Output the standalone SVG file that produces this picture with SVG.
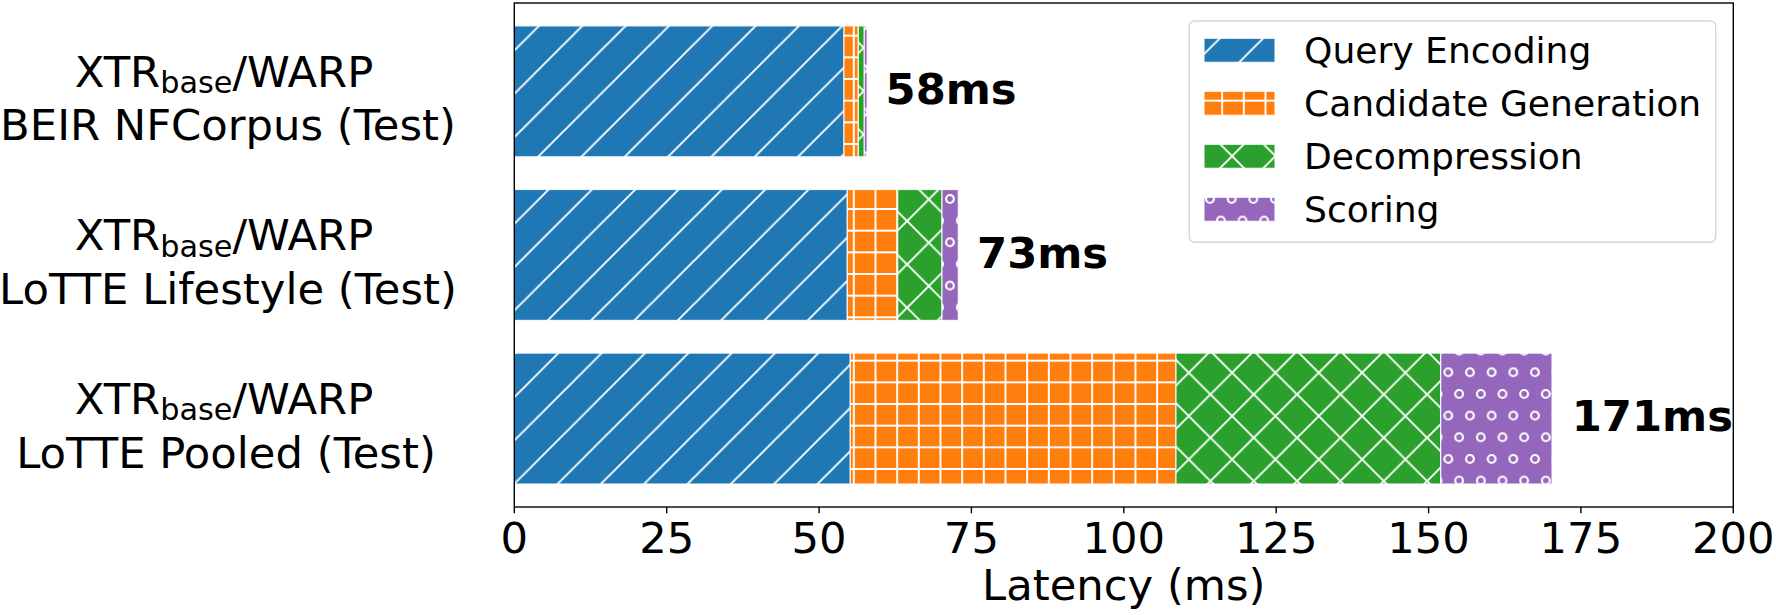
<svg xmlns="http://www.w3.org/2000/svg" width="1776" height="615" viewBox="0 0 1776 615">
<style>
  text { font-family: "DejaVu Sans", "Liberation Sans", sans-serif; fill: #000; }
  .lbl { font-size: 43.3px; text-anchor: middle; }
  .tick { font-size: 43.3px; text-anchor: middle; }
  .tot { font-size: 43.3px; font-weight: bold; }
  .leg { font-size: 36.1px; }
  .seg { stroke: #ffffff; stroke-width: 1.2; stroke-opacity: 0.85; }
  .spine { stroke: #000; stroke-width: 1.4; fill: none; }
  .tk { stroke: #000; stroke-width: 1.4; }
  .h { stroke: #ffffff; stroke-width: 1.9; fill: none; }
</style>
<defs>
  <pattern id="hb" patternUnits="userSpaceOnUse" x="1.5" y="0" width="43.333" height="43.333">
    <rect width="43.333" height="43.333" fill="#1f77b4"/>
    <path class="h" d="M-5,5 L5,-5 M-5,48.333 L48.333,-5 M38.333,48.333 L48.333,38.333"/>
  </pattern>
  <pattern id="ho" patternUnits="userSpaceOnUse" x="8.8" y="14" width="21.667" height="21.667">
    <rect width="21.667" height="21.667" fill="#ff7f0e"/>
    <path class="h" d="M0,0 V21.667 M21.667,0 V21.667 M0,0 H21.667 M0,21.667 H21.667"/>
  </pattern>
  <pattern id="hg" patternUnits="userSpaceOnUse" x="-2.9" y="4.4" width="43.333" height="43.333">
    <rect width="43.333" height="43.333" fill="#2ca02c"/>
    <path class="h" d="M-5,5 L5,-5 M-5,48.333 L48.333,-5 M38.333,48.333 L48.333,38.333 M-5,-5 L48.333,48.333 M38.333,-5 L48.333,5 M-5,38.333 L5,48.333"/>
  </pattern>
  <pattern id="hp" patternUnits="userSpaceOnUse" x="18.3" y="25.6" width="21.667" height="43.333">
    <rect width="21.667" height="43.333" fill="#9467bd"/>
    <g class="h" style="stroke-width:2.1">
      <circle cx="0" cy="0" r="3.9"/>
      <circle cx="21.667" cy="0" r="3.9"/>
      <circle cx="0" cy="43.333" r="3.9"/>
      <circle cx="21.667" cy="43.333" r="3.9"/>
      <circle cx="10.833" cy="21.667" r="3.9"/>
    </g>
  </pattern>
</defs>

<rect width="1776" height="615" fill="#ffffff"/>

<g id="bar-nfcorpus">
  <rect class="seg" x="514.3" y="25.9" width="329.7" height="130.9" fill="url(#hb)"/>
  <rect class="seg" x="844.0" y="25.9" width="14.3" height="130.9" fill="url(#ho)"/>
  <rect class="seg" x="858.3" y="25.9" width="6.0" height="130.9" fill="url(#hg)"/>
  <rect class="seg" x="864.3" y="25.9" width="2.8" height="130.9" fill="url(#hp)"/>
  <text class="tot" x="885.5" y="103.5">58ms</text>
</g>

<g id="bar-lifestyle">
  <rect class="seg" x="514.3" y="189.5" width="333.0" height="130.9" fill="url(#hb)"/>
  <rect class="seg" x="847.3" y="189.5" width="50.4" height="130.9" fill="url(#ho)"/>
  <rect class="seg" x="897.7" y="189.5" width="44.3" height="130.9" fill="url(#hg)"/>
  <rect class="seg" x="942.0" y="189.5" width="16.3" height="130.9" fill="url(#hp)"/>
  <text class="tot" x="977" y="267.5">73ms</text>
</g>

<g id="bar-pooled">
  <rect class="seg" x="514.3" y="353.1" width="336.0" height="130.9" fill="url(#hb)"/>
  <rect class="seg" x="850.3" y="353.1" width="325.7" height="130.9" fill="url(#ho)"/>
  <rect class="seg" x="1176.0" y="353.1" width="264.7" height="130.9" fill="url(#hg)"/>
  <rect class="seg" x="1440.7" y="353.1" width="111.3" height="130.9" fill="url(#hp)"/>
  <text class="tot" x="1571.7" y="431">171ms</text>
</g>

<g id="y-labels">
  <text class="lbl" x="224" y="86.7">XTR<tspan font-size="30.3" dy="6.3">base</tspan><tspan dy="-6.3">/WARP</tspan></text>
  <text class="lbl" x="228" y="140">BEIR NFCorpus (Test)</text>
  <text class="lbl" x="224" y="250.3">XTR<tspan font-size="30.3" dy="6.3">base</tspan><tspan dy="-6.3">/WARP</tspan></text>
  <text class="lbl" x="228" y="304">LoTTE Lifestyle (Test)</text>
  <text class="lbl" x="224" y="414">XTR<tspan font-size="30.3" dy="6.3">base</tspan><tspan dy="-6.3">/WARP</tspan></text>
  <text class="lbl" x="226" y="468.3">LoTTE Pooled (Test)</text>
</g>

<g id="axes">
  <rect class="spine" x="514.3" y="3" width="1219" height="504"/>
  <g id="x-ticks">
    <line class="tk" x1="514.3" y1="507" x2="514.3" y2="513.3"/>
    <line class="tk" x1="666.7" y1="507" x2="666.7" y2="513.3"/>
    <line class="tk" x1="819.1" y1="507" x2="819.1" y2="513.3"/>
    <line class="tk" x1="971.4" y1="507" x2="971.4" y2="513.3"/>
    <line class="tk" x1="1123.8" y1="507" x2="1123.8" y2="513.3"/>
    <line class="tk" x1="1276.2" y1="507" x2="1276.2" y2="513.3"/>
    <line class="tk" x1="1428.6" y1="507" x2="1428.6" y2="513.3"/>
    <line class="tk" x1="1580.9" y1="507" x2="1580.9" y2="513.3"/>
    <line class="tk" x1="1733.3" y1="507" x2="1733.3" y2="513.3"/>
    <text class="tick" x="514.3" y="553.3">0</text>
    <text class="tick" x="666.7" y="553.3">25</text>
    <text class="tick" x="819.1" y="553.3">50</text>
    <text class="tick" x="971.4" y="553.3">75</text>
    <text class="tick" x="1123.8" y="553.3">100</text>
    <text class="tick" x="1276.2" y="553.3">125</text>
    <text class="tick" x="1428.6" y="553.3">150</text>
    <text class="tick" x="1580.9" y="553.3">175</text>
    <text class="tick" x="1733.3" y="553.3">200</text>
  </g>
  <text class="tick" x="1123.8" y="600">Latency (ms)</text>
</g>

<g id="legend">
  <rect x="1189.3" y="21" width="526.4" height="221.3" rx="5.5" fill="#ffffff" fill-opacity="0.8" stroke="#d6d6d6" stroke-width="1.4"/>
  <rect class="seg" x="1204" y="38.3" width="71" height="24" fill="url(#hb)"/>
  <text class="leg" x="1304" y="63.3">Query Encoding</text>
  <rect class="seg" x="1204" y="91.3" width="71" height="24" fill="url(#ho)"/>
  <text class="leg" x="1304" y="116.3">Candidate Generation</text>
  <rect class="seg" x="1204" y="144.3" width="71" height="24" fill="url(#hg)"/>
  <text class="leg" x="1304" y="169.3">Decompression</text>
  <rect class="seg" x="1204" y="197.3" width="71" height="24" fill="url(#hp)"/>
  <text class="leg" x="1304" y="222.3">Scoring</text>
</g>
</svg>
